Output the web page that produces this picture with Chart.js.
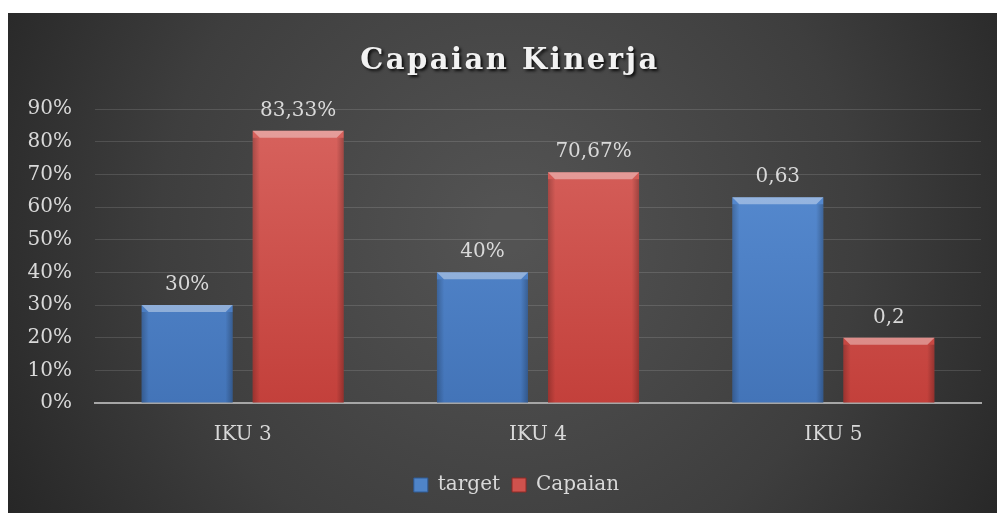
<!DOCTYPE html>
<html><head><meta charset="utf-8">
<style>html,body{margin:0;padding:0;background:#fff;overflow:hidden}#wrap{position:relative;width:997px;height:513px}</style>
<script src="https://cdn.jsdelivr.net/npm/chart.js@4.4.0/dist/chart.umd.min.js"></script>
</head><body><div id="wrap"><canvas id="c" width="997" height="513"></canvas></div>
<script>
const chartTitle = 'Capaian Kinerja';
const categories = ['IKU 3', 'IKU 4', 'IKU 5'];
const seriesNames = ['target', 'Capaian'];
const targetValues = [0.30, 0.40, 0.63];
const capaianValues = [0.8333, 0.7067, 0.20];
const targetLabels = ['30%', '40%', '0,63'];
const capaianLabels = ['83,33%', '70,67%', '0,2'];
const yTickLabels = ['0%', '10%', '20%', '30%', '40%', '50%', '60%', '70%', '80%', '90%'];

const FONT = '"DejaVu Serif", serif';
const TXT = '#d9d9d9';

function vGrad(chart, top, bottom) {
  const a = chart.chartArea;
  if (!a) return bottom;
  const g = chart.ctx.createLinearGradient(0, a.top, 0, a.bottom);
  g.addColorStop(0, top);
  g.addColorStop(1, bottom);
  return g;
}

const bgPlugin = {
  id: 'bg',
  beforeDraw(chart) {
    const ctx = chart.ctx;
    ctx.save();
    ctx.fillStyle = '#ffffff';
    ctx.fillRect(0, 0, chart.width, chart.height);
    const g = ctx.createRadialGradient(510, 230, 20, 510, 230, 620);
    g.addColorStop(0, '#535353');
    g.addColorStop(0.55, '#3e3e3e');
    g.addColorStop(1, '#222222');
    ctx.fillStyle = g;
    ctx.fillRect(8, 13, chart.width - 8, chart.height - 13);
    ctx.restore();
    // shift the legend block so it is centred like the reference
    if (chart.legend && !chart.legend._shifted) {
      chart.legend.left += 26;
      chart.legend.right += 26;
      chart.legend._shifted = true;
    }
  }
};

const decoPlugin = {
  id: 'deco',
  afterDatasetsDraw(chart) {
    const ctx = chart.ctx;
    const labelSets = [targetLabels, capaianLabels];
    chart.data.datasets.forEach((ds, di) => {
      const meta = chart.getDatasetMeta(di);
      meta.data.forEach((el, i) => {
        const w = el.width, l = el.x - w / 2, r = el.x + w / 2, t = el.y, b = el.base;
        ctx.save();
        ctx.beginPath();
        ctx.moveTo(l, t); ctx.lineTo(r, t); ctx.lineTo(r - 7, t + 7); ctx.lineTo(l + 7, t + 7); ctx.closePath();
        ctx.fillStyle = 'rgba(255,255,255,0.38)';
        ctx.fill();
        const sg = ctx.createLinearGradient(l, 0, r, 0);
        sg.addColorStop(0, 'rgba(0,0,0,0.22)');
        sg.addColorStop(0.08, 'rgba(0,0,0,0)');
        sg.addColorStop(0.92, 'rgba(0,0,0,0)');
        sg.addColorStop(1, 'rgba(0,0,0,0.25)');
        ctx.fillStyle = sg;
        ctx.fillRect(l, t + 7, w, b - t - 7);
        ctx.font = '20px ' + FONT;
        ctx.fillStyle = TXT;
        ctx.textAlign = 'center';
        ctx.textBaseline = 'alphabetic';
        ctx.fillText(labelSets[di][i], el.x, t - 15);
        ctx.restore();
      });
    });
  },
  afterDraw(chart) {
    const ctx = chart.ctx;
    ctx.save();
    ctx.font = 'bold 29px ' + FONT;
    try { ctx.letterSpacing = '2.5px'; } catch (e) {}
    ctx.textAlign = 'center';
    ctx.textBaseline = 'alphabetic';
    ctx.shadowColor = 'rgba(0,0,0,0.85)';
    ctx.shadowOffsetX = 2;
    ctx.shadowOffsetY = 2;
    ctx.shadowBlur = 3;
    ctx.fillStyle = '#f2f2f2';
    ctx.fillText(chartTitle, 510, 69);
    ctx.restore();
  }
};

new Chart(document.getElementById('c'), {
  type: 'bar',
  data: {
    labels: categories,
    datasets: [
      {
        label: seriesNames[0],
        data: targetValues,
        backgroundColor: (c) => vGrad(c.chart, '#5b90d6', '#4374b8'),
        borderWidth: 0,
        categoryPercentage: 0.752,
        barPercentage: 0.82
      },
      {
        label: seriesNames[1],
        data: capaianValues,
        backgroundColor: (c) => vGrad(c.chart, '#d8645f', '#c3403b'),
        borderWidth: 0,
        categoryPercentage: 0.752,
        barPercentage: 0.82
      }
    ]
  },
  options: {
    responsive: false,
    devicePixelRatio: 1,
    animation: false,
    events: [],
    layout: { padding: { top: 109, right: 16, bottom: 8, left: 0 } },
    scales: {
      x: {
        grid: { display: false, drawTicks: false },
        border: { display: true, color: '#a6a6a6', width: 2 },
        ticks: { color: TXT, font: { family: FONT, size: 20 }, padding: 20 },
        afterFit(s) { s.height = 60; }
      },
      y: {
        min: 0, max: 0.9,
        grid: { color: (c) => c.tick && c.tick.value === 0 ? 'rgba(0,0,0,0)' : 'rgba(255,255,255,0.13)', lineWidth: 1, drawTicks: false },
        border: { display: false },
        ticks: {
          stepSize: 0.1,
          color: TXT,
          font: { family: FONT, size: 20 },
          padding: 23,
          callback: (v, i) => yTickLabels[i]
        },
        afterFit(s) { s.width = 95; }
      }
    },
    plugins: {
      title: { display: false },
      tooltip: { enabled: false },
      legend: {
        display: true,
        position: 'bottom',
        labels: {
          color: TXT,
          font: { family: FONT, size: 20 },
          boxWidth: 14,
          boxHeight: 14,
          padding: 12,
          generateLabels: (chart) => seriesNames.map((n, i) => ({
            text: n,
            fillStyle: i === 0 ? '#4f84c8' : '#cf524d',
            strokeStyle: i === 0 ? '#2f5a94' : '#8e2a27',
            lineWidth: 1,
            fontColor: TXT,
            datasetIndex: i
          }))
        }
      }
    }
  },
  plugins: [bgPlugin, decoPlugin]
});
</script>
</body></html>
